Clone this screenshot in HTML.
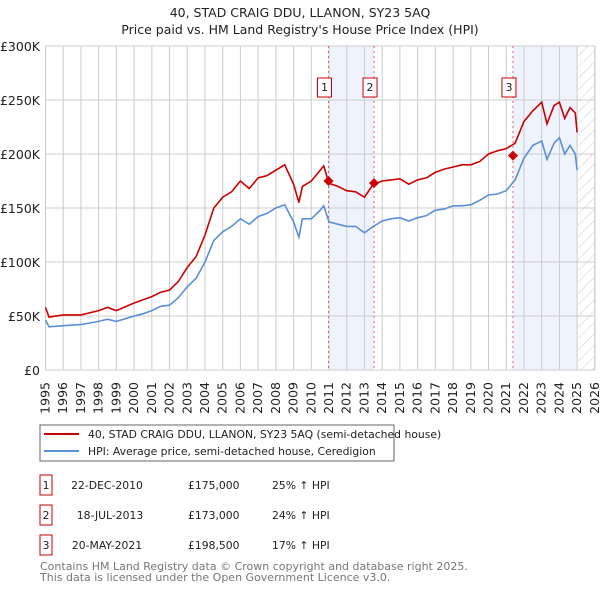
<!DOCTYPE html>
<html><head><meta charset="utf-8"><style>
body{margin:0;background:#fff;width:600px;height:590px;overflow:hidden;font-family:"Liberation Sans","DejaVu Sans",sans-serif}
svg{display:block}
</style></head><body>
<svg id="chart" width="600" height="590" xmlns="http://www.w3.org/2000/svg" font-family="DejaVu Sans, Liberation Sans, sans-serif">
<defs><pattern id="hatch" patternUnits="userSpaceOnUse" width="8" height="8" patternTransform="rotate(45)"><line x1="0" y1="0" x2="0" y2="8" stroke="#ccc" stroke-width="1"/></pattern></defs>
<text x="300" y="17" text-anchor="middle" font-size="12.5" fill="#222">40, STAD CRAIG DDU, LLANON, SY23 5AQ</text>
<text x="300" y="34" text-anchor="middle" font-size="12.5" fill="#222">Price paid vs. HM Land Registry's House Price Index (HPI)</text>
<g id="plot"></g>
<g>
<rect x="40" y="425" width="354" height="36" fill="#fff" stroke="#666"/>
<line x1="44" y1="434" x2="79" y2="434" stroke="#cc0000" stroke-width="2"/>
<text x="88" y="438" font-size="10.8" fill="#222">40, STAD CRAIG DDU, LLANON, SY23 5AQ (semi-detached house)</text>
<line x1="44" y1="451" x2="79" y2="451" stroke="#5b8fd6" stroke-width="2"/>
<text x="88" y="455" font-size="10.8" fill="#222">HPI: Average price, semi-detached house, Ceredigion</text>
</g>
<g font-size="10.8" fill="#222">
<rect x="40" y="475" width="12" height="20" fill="#fff" stroke="#cc0000"/><text x="46" y="489" text-anchor="middle">1</text>
<text x="107" y="489" text-anchor="middle">22-DEC-2010</text><text x="188" y="489">£175,000</text><text x="272" y="489">25% ↑ HPI</text>
<rect x="40" y="505" width="12" height="20" fill="#fff" stroke="#cc0000"/><text x="46" y="519" text-anchor="middle">2</text>
<text x="110" y="519" text-anchor="middle">18-JUL-2013</text><text x="188" y="519">£173,000</text><text x="272" y="519">24% ↑ HPI</text>
<rect x="40" y="535" width="12" height="20" fill="#fff" stroke="#cc0000"/><text x="46" y="549" text-anchor="middle">3</text>
<text x="107" y="549" text-anchor="middle">20-MAY-2021</text><text x="188" y="549">£198,500</text><text x="272" y="549">17% ↑ HPI</text>
</g>
<text x="40" y="570" font-size="11" fill="#777">Contains HM Land Registry data © Crown copyright and database right 2025.</text>
<text x="40" y="581" font-size="11" fill="#777">This data is licensed under the Open Government Licence v3.0.</text>
</svg>
<script>
const hpiYears=[1995,1995.2,1996,1997,1998,1998.5,1999,2000,2000.5,2001,2001.5,2002,2002.5,2003,2003.5,2004,2004.5,2005,2005.5,2006,2006.5,2007,2007.5,2008,2008.5,2009,2009.3,2009.5,2010,2010.5,2010.7,2011,2011.5,2012,2012.5,2013,2013.5,2014,2014.5,2015,2015.5,2016,2016.5,2017,2017.5,2018,2018.5,2019,2019.5,2020,2020.5,2021,2021.5,2022,2022.5,2023,2023.3,2023.7,2024,2024.3,2024.6,2024.9,2025];
const hpiValues=[46,40,41,42,45,47,45,50,52,55,59,60,67,77,85,100,120,128,133,140,135,142,145,150,153,137,123,140,140,148,152,137,135,133,133,127,133,138,140,141,138,141,143,148,149,152,152,153,157,162,163,166,176,196,208,212,195,210,215,200,208,200,185];
const priceValues=[58,49,51,51,55,58,55,62,65,68,72,74,82,95,105,125,150,160,165,175,168,178,180,185,190,172,155,170,175,185,189,173,170,166,165,160,172,175,176,177,172,176,178,183,186,188,190,190,193,200,203,205,210,230,240,248,228,245,248,233,243,238,220];
const saleYears=[2010.97,2013.54,2021.38];
const salePrices=[175,173,198.5];
const saleLabels=["1","2","3"];
const yTicks=[0,50,100,150,200,250,300];
const yTickLabels=["£0","£50K","£100K","£150K","£200K","£250K","£300K"];
const xTicks=[];for(let y=1995;y<=2026;y++)xTicks.push(y);

const X=y=>45.5+17.72*(y-1995);
const Y=v=>370-v*54/50;
const NS="http://www.w3.org/2000/svg";
const g=document.getElementById('plot');
function mk(t,a,p){const e=document.createElementNS(NS,t);for(const k in a)e.setAttribute(k,a[k]);(p||g).appendChild(e);return e;}
let e=mk('rect',{x:X(saleYears[0]),y:Y(300),width:X(saleYears[1])-X(saleYears[0]),height:Y(0)-Y(300),fill:'#eef3fd'});


e=mk('rect',{x:X(saleYears[2]),y:Y(300),width:X(2025.0)-X(saleYears[2]),height:Y(0)-Y(300),fill:'#eef3fd'});


e=mk('rect',{x:X(2025.05),y:Y(300),width:X(2026)-X(2025.05),height:Y(0)-Y(300),fill:'url(#hatch)'});


yTicks.forEach((v,i)=>{
 let l=mk('line',{x1:X(1995),x2:X(2026),y1:Y(v),y2:Y(v),stroke:'#ccc'});
 
 
 let t=mk('text',{x:40,y:Y(v)+5,'text-anchor':'end','font-size':12.5,fill:'#222'});t.textContent=yTickLabels[i];
 
 
});
xTicks.forEach(y=>{
 let l=mk('line',{x1:X(y),x2:X(y),y1:Y(300),y2:Y(0),stroke:'#ccc'});
 
 
 let t=mk('text',{x:0,y:0,'text-anchor':'end','font-size':12.5,fill:'#222',transform:`translate(${X(y)+4},382) rotate(-90)`});t.textContent=y;
 
 
});
e=mk('rect',{x:X(1995),y:Y(300),width:X(2026)-X(1995),height:Y(0)-Y(300),fill:'none',stroke:'#ccc'});


saleYears.forEach((sy,i)=>{
 let l=mk('line',{x1:X(sy),x2:X(sy),y1:Y(300),y2:Y(0),stroke:'#e06070','stroke-dasharray':'2,3'});
 
 
 let r=mk('rect',{x:X(sy)-11,y:78,width:14,height:19,fill:'#fff',stroke:'#cc0000'});
 
 
 let t=mk('text',{x:X(sy)-4,y:91,'text-anchor':'middle','font-size':11,fill:'#222'});t.textContent=saleLabels[i];
 
 
});
const pts=vals=>hpiYears.map((y,i)=>X(y).toFixed(1)+','+Y(vals[i]).toFixed(1)).join(' ');
e=mk('polyline',{points:pts(hpiValues),fill:'none',stroke:'#5b8fd6','stroke-width':1.6});


e=mk('polyline',{points:pts(priceValues),fill:'none',stroke:'#cc0000','stroke-width':1.6});


saleYears.forEach((sy,i)=>{
 const cx=X(sy),cy=Y(salePrices[i]);
 let p=mk('polygon',{points:`${cx},${cy-5} ${cx+5},${cy} ${cx},${cy+5} ${cx-5},${cy}`,fill:'#cc0000'});
 
 
});
</script>
</body></html>
